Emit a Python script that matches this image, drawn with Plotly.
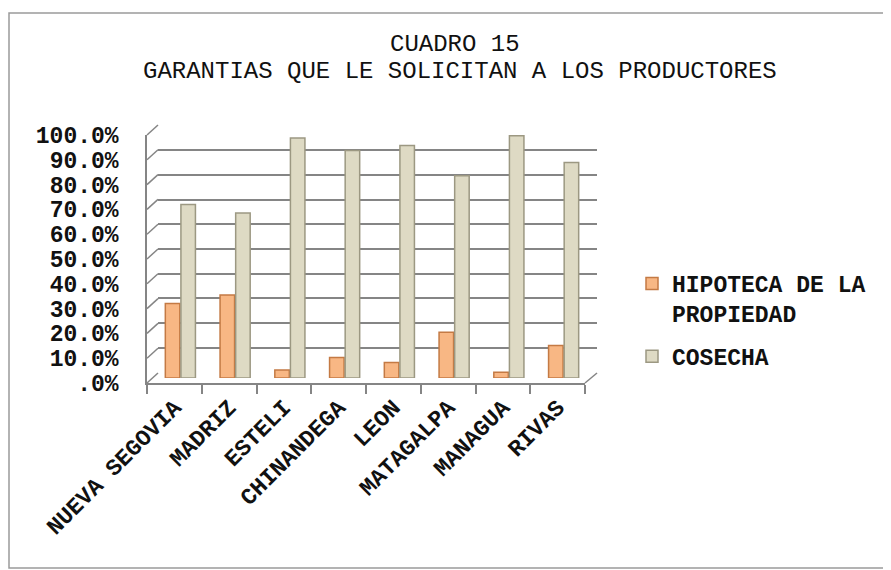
import plotly.graph_objects as go

# ---- data ----
categories = ["NUEVA SEGOVIA", "MADRIZ", "ESTELI", "CHINANDEGA", "LEON",
              "MATAGALPA", "MANAGUA", "RIVAS"]
hipoteca = [30.0, 33.5, 3.2, 8.3, 6.3, 18.4, 2.3, 13.1]
cosecha = [70.0, 66.5, 96.8, 91.7, 93.7, 81.6, 97.7, 86.9]
tick_vals = [0, 10, 20, 30, 40, 50, 60, 70, 80, 90, 100]
tick_text = [".0%", "10.0%", "20.0%", "30.0%", "40.0%", "50.0%",
             "60.0%", "70.0%", "80.0%", "90.0%", "100.0%"]
series_names = ["HIPOTECA DE LA<br>PROPIEDAD", "COSECHA"]
title_lines = ["CUADRO 15", "GARANTIAS QUE LE SOLICITAN A LOS PRODUCTORES"]

# ---- layout geometry (target window pixels) ----
WIN_W, WIN_H = 891, 570
OFF = 8                      # default page body margin
W, H = WIN_W - OFF, WIN_H - OFF
FONT = "Liberation Mono, Courier New, monospace"
GRID = "#858585"


def fx(x):
    return (x - OFF) / W


def fy(y):
    return 1 - (y - OFF) / H


# front plane, back wall, and mid-depth (bars)
front = dict(x0=147, x1=585, y0=383, y100=135)
back = dict(x0=158, x1=597, y0=373, y100=125)
mid = dict(x0=153, x1=591, y0=378, y100=130)


def ydom(p):
    return [fy(p["y0"]), fy(p["y100"])]


def xdom(p):
    return [fx(p["x0"]), fx(p["x1"])]


fig = go.Figure()

# bars on mid-depth axes
fig.add_trace(go.Bar(
    x=categories, y=hipoteca, name=series_names[0], xaxis="x3", yaxis="y3",
    marker=dict(color="#F8B784", line=dict(color="#C47A44", width=1.5)),
    legendgroup="a"))
fig.add_trace(go.Bar(
    x=categories, y=cosecha, name=series_names[1], xaxis="x3", yaxis="y3",
    marker=dict(color="#DEDAC4", line=dict(color="#9C9882", width=1.5)),
    legendgroup="b"))

# invisible traces so the front and back axes show
fig.add_trace(go.Scatter(x=categories, y=[0] * len(categories), mode="markers",
                         marker=dict(opacity=0), showlegend=False,
                         hoverinfo="skip", xaxis="x", yaxis="y"))
fig.add_trace(go.Scatter(x=categories, y=[0] * len(categories), mode="markers",
                         marker=dict(opacity=0), showlegend=False,
                         hoverinfo="skip", xaxis="x2", yaxis="y2"))

shapes = []
# side wall lines linking the front axis levels with the back wall grid
for v in tick_vals:
    yf = front["y0"] + (front["y100"] - front["y0"]) * v / 100
    yb = back["y0"] + (back["y100"] - back["y0"]) * v / 100
    shapes.append(dict(type="line", xref="paper", yref="paper",
                       x0=fx(front["x0"]), y0=fy(yf), x1=fx(back["x0"]), y1=fy(yb),
                       line=dict(color=GRID, width=1.5)))
# floor right edge
shapes.append(dict(type="line", xref="paper", yref="paper",
                   x0=fx(front["x1"]), y0=fy(front["y0"]),
                   x1=fx(back["x1"]), y1=fy(back["y0"]),
                   line=dict(color=GRID, width=1.5)))
# chart frame
shapes.append(dict(type="rect", xref="paper", yref="paper",
                   x0=fx(9), y0=fy(568), x1=fx(889), y1=fy(13),
                   line=dict(color="#9A9A9A", width=1.5), layer="below"))

annotations = [
    dict(text=title_lines[0], x=fx(455), y=fy(44), xref="paper", yref="paper",
         showarrow=False, xanchor="center", yanchor="middle",
         font=dict(family=FONT, size=24, color="#111111")),
    dict(text=title_lines[1], x=fx(460), y=fy(71), xref="paper", yref="paper",
         showarrow=False, xanchor="center", yanchor="middle",
         font=dict(family=FONT, size=24, color="#111111")),
]

fig.update_layout(
    width=W, height=H,
    margin=dict(l=0, r=0, t=0, b=0, autoexpand=False),
    paper_bgcolor="white", plot_bgcolor="rgba(0,0,0,0)",
    barmode="group", bargap=0.43, bargroupgap=0.07,
    showlegend=True,
    legend=dict(x=fx(632), y=fy(262), xanchor="left", yanchor="top",
                font=dict(family=FONT, size=23, color="#111111", weight="bold"),
                valign="top", tracegroupgap=10, bgcolor="rgba(0,0,0,0)",
                itemwidth=30),
    shapes=shapes,
    annotations=annotations,
    # front axes: labels, ticks, front lines
    xaxis=dict(domain=xdom(front), anchor="y", type="category",
               categoryorder="array", categoryarray=categories,
               range=[-0.5, len(categories) - 0.5],
               showline=True, linecolor=GRID, linewidth=1.5,
               ticks="outside", tickson="boundaries", ticklen=9,
               tickcolor=GRID, tickwidth=1.5, tickangle=-45,
               showgrid=False, zeroline=False, automargin=False,
               tickfont=dict(family=FONT, size=23, color="#111111", weight="bold")),
    yaxis=dict(domain=ydom(front), anchor="x", range=[0, 100],
               tickvals=tick_vals, ticktext=tick_text,
               showline=True, linecolor=GRID, linewidth=1.5, automargin=False,
               ticks="", showgrid=False, zeroline=False, ticklabelstandoff=22,
               tickfont=dict(family=FONT, size=23, color="#111111", weight="bold")),
    # back wall grid
    xaxis2=dict(domain=xdom(back), anchor="y2", type="category",
                categoryorder="array", categoryarray=categories,
                range=[-0.5, len(categories) - 0.5],
                showticklabels=False, showgrid=False, zeroline=False,
                showline=False, ticks=""),
    yaxis2=dict(domain=ydom(back), anchor="x2", range=[-0.2, 100.2],
                tickvals=tick_vals, showticklabels=False, ticks="",
                showgrid=True, gridcolor=GRID, gridwidth=1.5,
                zeroline=False, showline=False),
    # bars at mid depth
    xaxis3=dict(domain=xdom(mid), anchor="y3", type="category",
                categoryorder="array", categoryarray=categories,
                range=[-0.5, len(categories) - 0.5],
                showticklabels=False, showgrid=False, zeroline=False,
                showline=False, ticks=""),
    yaxis3=dict(domain=ydom(mid), anchor="x3", range=[0, 100],
                showticklabels=False, showgrid=False, zeroline=False,
                showline=False, ticks=""),
)

fig.write_html("out.html")
